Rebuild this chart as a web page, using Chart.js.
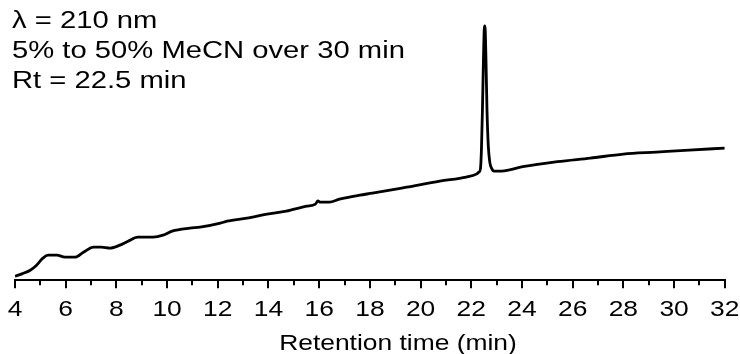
<!DOCTYPE html>
<html>
<head>
<meta charset="utf-8">
<script src="https://cdn.jsdelivr.net/npm/chart.js@4.4.1/dist/chart.umd.min.js"></script>
<style>
  html, body { margin: 0; padding: 0; background: #fff; }
  #wrap { width: 740px; height: 354px; }
</style>
</head>
<body>
<div id="wrap"><canvas id="c"></canvas></div>
<script>
// HPLC trace, UV absorbance (arbitrary units) vs retention time (min)
const retentionTime = [
  4.0, 4.3, 4.6, 4.85, 5.1, 5.3, 5.65, 5.97, 6.37, 6.7, 7.1, 7.4, 7.75, 8.14, 8.46,
  8.85, 9.45, 9.84, 10.2, 10.9, 11.3, 12.1, 12.36, 13.15, 13.94, 14.7, 15.5, 15.85,
  15.95, 16.05, 16.4, 16.8, 17.6, 18.1, 19.45, 20.76, 21.8, 22.2, 22.3, 22.36, 22.4,
  22.44, 22.48, 22.51, 22.53, 22.55, 22.58, 22.62, 22.67, 22.73, 22.8, 22.9, 23.1,
  23.2, 24.03, 25.4, 26.7, 28.0, 29.3, 30.6, 32.0
];
const absorbance = [
  2.0, 3.3, 5.0, 7.5, 11.0, 12.5, 12.5, 11.5, 11.5, 14.0, 16.5, 16.5, 16.0, 17.5, 19.5,
  21.5, 21.5, 22.5, 24.5, 26.0, 26.5, 28.5, 29.5, 31.0, 33.0, 34.5, 37.0, 38.0,
  39.6, 39.0, 39.0, 40.5, 42.5, 43.5, 46.5, 49.5, 51.5, 53.0, 54.0, 55.5, 65.0,
  85.0, 110.0, 125.0, 127.0, 125.0, 110.0, 85.0, 67.5, 59.0, 56.0, 54.5, 54.5,
  54.5, 56.7, 59.2, 61.0, 63.0, 64.0, 65.0, 66.0
];
const xMin = 4, xMax = 32, majorStep = 2;
const axisTitle = 'Retention time (min)';
const infoLines = ['λ = 210 nm', '5% to 50% MeCN over 30 min', 'Rt = 22.5 min'];

const FONT = '"Liberation Sans", Arial, Helvetica, sans-serif';
const CLEAR = 'rgba(0,0,0,0)';

const points = retentionTime.map((t, i) => ({ x: t, y: absorbance[i] }));

// draw text with a horizontal stretch (the lettering is set wide)
function wideText(ctx, s, x, y, size, sx, align) {
  ctx.save();
  ctx.font = size + 'px ' + FONT;
  ctx.textAlign = align;
  ctx.textBaseline = 'alphabetic';
  ctx.translate(x, y);
  ctx.scale(sx, 1);
  ctx.fillText(s, 0, 0);
  ctx.restore();
}

// minor ticks at the odd minutes, tick labels, axis title and the method text block
const extras = {
  id: 'extras',
  afterDraw(chart) {
    const ctx = chart.ctx;
    const xs = chart.scales.x;
    ctx.save();
    ctx.strokeStyle = '#000';
    ctx.lineWidth = 2;
    for (let t = xMin + 1; t < xMax; t += majorStep) {
      const px = Math.round(xs.getPixelForValue(t));
      ctx.beginPath();
      ctx.moveTo(px, xs.top);
      ctx.lineTo(px, xs.top + 5);
      ctx.stroke();
    }
    ctx.fillStyle = '#000';
    xs.ticks.forEach(tk => {
      wideText(ctx, String(tk.value), xs.getPixelForValue(tk.value), xs.top + 36, 22, 1.2, 'center');
    });
    wideText(ctx, axisTitle, 398, xs.top + 70, 22, 1.2, 'center');
    infoLines.forEach((s, i) => wideText(ctx, s, 12, 28 + i * 30, 23, 1.27, 'left'));
    ctx.restore();
  }
};

new Chart(document.getElementById('c'), {
  type: 'line',
  data: {
    datasets: [{
      data: points,
      borderColor: '#000',
      borderWidth: 2.8,
      pointRadius: 0,
      fill: false,
      cubicInterpolationMode: 'monotone'
    }]
  },
  options: {
    responsive: true,
    maintainAspectRatio: false,
    animation: false,
    layout: { padding: { left: 15, right: 15, top: 10, bottom: 3 } },
    plugins: { legend: { display: false }, tooltip: { enabled: false } },
    scales: {
      x: {
        type: 'linear',
        min: xMin,
        max: xMax,
        ticks: {
          stepSize: majorStep,
          color: CLEAR,
          font: { family: FONT, size: 22 },
          padding: 3,
          maxRotation: 0
        },
        grid: { drawOnChartArea: false, drawTicks: true, tickLength: 8, color: '#000', lineWidth: 2 },
        border: { color: '#000', width: 2 },
        title: {
          display: true,
          text: axisTitle,
          color: CLEAR,
          font: { family: FONT, size: 22 },
          padding: { top: 2, bottom: 2 }
        }
      },
      y: {
        display: false,
        min: 0,
        max: 135
      }
    }
  },
  plugins: [extras]
});
</script>
</body>
</html>
